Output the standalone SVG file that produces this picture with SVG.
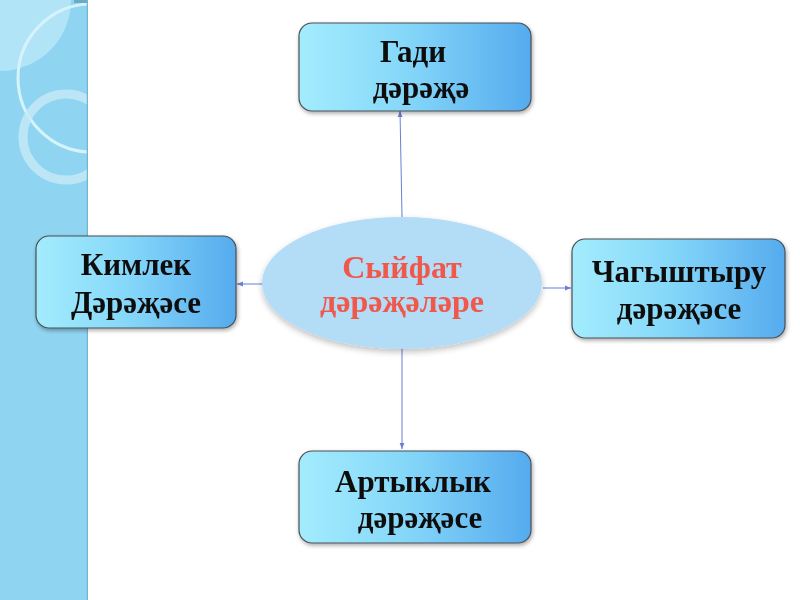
<svg xmlns="http://www.w3.org/2000/svg" width="800" height="600" viewBox="0 0 800 600">
<defs>
<linearGradient id="boxg" x1="0" y1="0" x2="1" y2="0">
<stop offset="0" stop-color="#a3ecfd"/>
<stop offset="0.45" stop-color="#86d8f9"/>
<stop offset="1" stop-color="#55abee"/>
</linearGradient>
<filter id="sh" x="-10%" y="-10%" width="125%" height="130%">
<feGaussianBlur in="SourceAlpha" stdDeviation="2"/>
<feOffset dx="1" dy="2" result="b"/>
<feComponentTransfer><feFuncA type="linear" slope="0.35"/></feComponentTransfer>
<feMerge><feMergeNode/><feMergeNode in="SourceGraphic"/></feMerge>
</filter>
<filter id="glow" x="-10%" y="-20%" width="120%" height="145%">
<feGaussianBlur in="SourceAlpha" stdDeviation="3"/>
<feOffset dx="0" dy="3"/>
<feComponentTransfer><feFuncA type="linear" slope="0.25"/></feComponentTransfer>
<feMerge><feMergeNode/><feMergeNode in="SourceGraphic"/></feMerge>
</filter>
<marker id="arr" viewBox="0 0 10 10" refX="10" refY="5" markerWidth="6" markerHeight="6" orient="auto-start-reverse" markerUnits="userSpaceOnUse">
<path d="M0,1 L10,5 L0,9 z" fill="#6a7fd6"/>
</marker>
<clipPath id="strip"><rect x="0" y="0" width="88" height="600"/></clipPath>
</defs>
<style>
.box{fill:url(#boxg);stroke:#4a4f55;stroke-width:1.2}
.t{font-family:"Liberation Serif","Times New Roman",serif;font-weight:bold;font-size:31px;fill:#111;text-anchor:middle}
.r{font-family:"Liberation Serif","Times New Roman",serif;font-weight:bold;font-size:32px;fill:#f0594b;text-anchor:middle}
.c{stroke:#6a7fd6;stroke-width:1;fill:none;marker-end:url(#arr)}
</style>
<rect width="800" height="600" fill="#ffffff"/>
<g id="background-strip" clip-path="url(#strip)">
<rect x="0" y="0" width="88" height="600" fill="#8fd5f1"/>
<circle cx="0" cy="0" r="71" fill="#b2e4f8"/>
<circle cx="92" cy="78" r="74" fill="none" stroke="#d6f3fc" stroke-width="3"/>
<circle cx="66" cy="137" r="43" fill="none" stroke="#c4e9f7" stroke-width="9" opacity="0.85"/>
<rect x="74" y="0" width="14" height="3" fill="#6fa9c4"/>
<line x1="87.5" y1="0" x2="87.5" y2="600" stroke="#72b6d2" stroke-width="1.5"/>
</g>
<g id="connectors">
<line class="c" x1="402" y1="217" x2="400" y2="111"/>
<line class="c" x1="263" y1="284" x2="237" y2="284"/>
<line class="c" x1="543" y1="288" x2="571" y2="288"/>
<line class="c" x1="402" y1="346" x2="402" y2="449"/>
</g>
<g id="center" filter="url(#glow)">
<ellipse cx="402" cy="283" rx="140" ry="66" fill="#b3dcf6"/>
<text class="r" x="402" y="278">Сыйфат</text>
<text class="r" x="402" y="312">дәрәҗәләре</text>
</g>
<g id="gadi" filter="url(#sh)">
<rect class="box" x="299" y="23" width="232" height="88" rx="13"/>
<text class="t" x="413" y="62">Гади</text>
<text class="t" x="421" y="98">дәрәҗә</text>
</g>
<g id="kimlek" filter="url(#sh)">
<rect class="box" x="36" y="236" width="200" height="92" rx="13"/>
<text class="t" x="136" y="275">Кимлек</text>
<text class="t" x="136" y="313">Дәрәҗәсе</text>
</g>
<g id="chagyshtyru" filter="url(#sh)">
<rect class="box" x="572" y="239" width="213" height="99" rx="13"/>
<text class="t" x="679" y="282">Чагыштыру</text>
<text class="t" x="679" y="319">дәрәҗәсе</text>
</g>
<g id="artyklyk" filter="url(#sh)">
<rect class="box" x="299" y="451" width="232" height="92" rx="13"/>
<text class="t" x="413" y="492">Артыклык</text>
<text class="t" x="420" y="528">дәрәҗәсе</text>
</g>
</svg>
